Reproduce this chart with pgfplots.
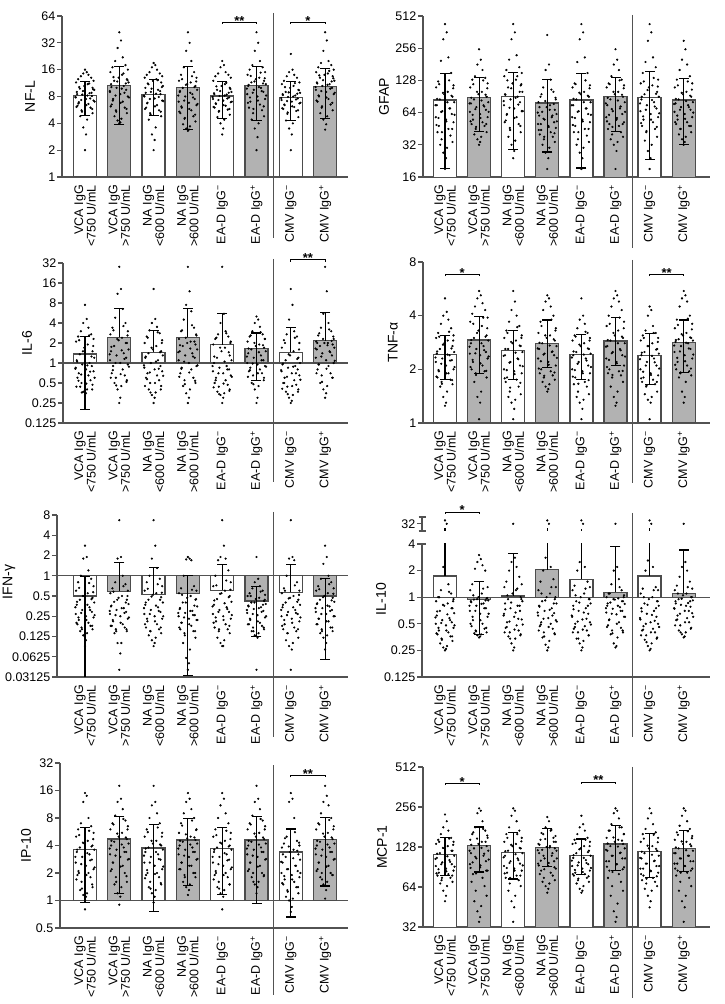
\documentclass[border=0pt]{standalone}
\usepackage{fontspec}
\setmainfont{Liberation Sans}
\usepackage{pgfplots}
\usepackage{pgfplotstable}
\pgfplotsset{compat=1.18}

\definecolor{axgray}{gray}{0.32}
\definecolor{barfill}{gray}{0.70}
\definecolor{baredge}{gray}{0.30}

\newcommand\xfont{\fontsize{12.5}{12.5}\selectfont}
\newcommand\yfont{\fontsize{12.5}{13}\selectfont}
\newcommand\lfont{\fontsize{14}{15}\selectfont}
\newcommand\sfont{\fontsize{13}{13}\selectfont\bfseries}

\pgfplotstableread{
j g0 g1 g2 g3 g4 g5 g6 g7
0 16 42 19 42 20 42 24 42
0.05 15 34 18 32 18 32 16 34
-0.05 14.5 28 17 26 17 26 15 26
0.1 14 22 16 20 15 20 14 20
-0.12 13.5 20 15 17 14.5 18 13.5 19
0.18 13 18 14.5 15 14 17 13 18
-0.2 12.5 17 14 14 13.5 16 12 17
0.25 12 16 13.5 13 13 15 11.5 16
-0.26 11.5 15 13 12 12 14 11 15
0.08 11 14 12.5 11.5 11 13 10.5 14.5
-0.02 10.5 13 12 11 10.5 12.5 10 14
0.22 10 12.5 11.5 10.5 10 12 9.5 13.5
-0.15 9.8 12 11 10 9.5 11.5 9 13
0.27 9.5 11.5 10.5 9.5 9 11 8.8 12
-0.24 9 11 10 9 8.7 10.5 8.5 11.5
0.13 8.7 10.5 9.5 8.5 8.4 10 8.2 11
-0.08 8.4 10 9 8 8.1 9.5 7.9 10.5
0.2 8.1 9.5 8.5 7.5 7.8 9 7.6 10
-0.27 7.8 9 8 7 7.5 8.5 7.3 9.5
0.03 7.5 8.5 7.6 6.8 7.2 8 7 9
0.25 7.2 8 7.2 6.4 6.9 7.5 6.7 8.5
-0.18 6.9 7.5 6.8 6 6.6 7 6.4 8
0.1 6.6 7 6.4 5.6 6.3 6.5 6.1 7.5
-0.22 6.3 6.5 6 5.2 6 6 5.8 7
0.16 6 6 5.6 4.8 5.7 5.6 5.5 6.5
-0.1 5.6 5.6 5.2 4.5 5.4 5.2 5.1 6
0.22 5.2 5.2 4.8 4.2 5 4.8 4.7 5.6
-0.14 4.8 4.8 4.4 3.9 4.7 4.4 4.3 5.2
0.06 4.4 4.5 3.6 3.7 4.4 4 4 4.8
-0.05 3.6 4.3 3.0 3.5 4 3.5 3.5 4.4
0.03 3.0 4.1 2.6 3.4 3.5 2.8 3 3.9
0 2.0 4.0 2.0 3.3 3.0 2.0 2 3.4
0.12 11.2 14.5 12.2 13.5 11.4 14.8 11.3 15.5
-0.17 10.2 13.2 11.2 12.5 10.4 13.6 10.2 13.8
0.24 9.6 12.2 10.2 11.8 9.7 12.8 9.4 12.8
-0.06 9.2 11.8 9.8 10.8 9.2 11.8 8.9 12.2
0.19 8.8 11.2 9.2 10.2 8.8 11.2 8.6 11.8
-0.23 8.5 10.2 8.8 9.2 8.5 10.8 8.3 11.2
0.07 8.2 9.8 8.6 8.8 8.2 10.2 8.0 10.8
-0.28 7.9 9.2 8.2 8.2 7.9 9.8 7.7 10.2
0.15 7.6 8.8 7.9 7.8 7.6 9.2 7.4 9.8
-0.11 7.3 8.2 7.5 7.2 7.3 8.8 7.1 9.2
0.28 7.0 7.8 7.1 6.6 7.0 8.2 6.8 8.8
-0.19 6.7 7.2 6.7 6.2 6.7 7.8 6.5 8.2
0.04 6.4 6.8 6.2 5.8 6.4 7.2 6.2 7.8
-0.25 6.1 6.2 5.8 5.4 6.1 6.8 5.9 7.2
0.21 5.8 5.8 5.4 5.0 5.8 6.2 5.6 6.8
-0.09 5.4 5.4 5.0 4.6 5.5 5.8 5.3 6.2
}\tNFL

\pgfplotstableread{
j g0 g1 g2 g3 g4 g5 g6 g7
0 430 250 430 340 430 250 430 300
0.05 360 200 360 180 360 200 360 250
-0.05 310 180 310 160 310 180 300 200
0.1 210 160 220 130 210 160 210 180
-0.12 195 140 200 110 190 140 190 160
0.18 150 135 170 100 150 130 170 140
-0.2 125 130 160 90 120 120 150 130
0.25 115 120 150 85 115 115 130 120
-0.26 110 110 140 80 110 110 120 110
0.08 100 100 130 75 100 100 115 100
-0.02 95 95 120 72 95 95 110 95
0.22 90 90 115 68 90 90 100 90
-0.15 85 85 110 65 85 85 95 85
0.27 80 80 100 62 80 80 90 80
-0.24 75 78 95 60 75 75 85 78
0.13 70 75 90 58 70 70 80 75
-0.08 66 72 85 55 66 66 75 72
0.2 62 68 80 52 62 62 70 68
-0.27 58 65 75 50 58 58 66 65
0.03 55 62 70 48 55 55 62 62
0.25 52 58 66 46 52 52 58 58
-0.18 48 55 62 44 48 50 55 55
0.1 45 52 58 42 45 48 52 52
-0.22 42 50 54 40 42 45 48 50
0.16 39 48 50 38 39 42 45 48
-0.1 36 45 46 36 36 40 42 45
0.22 34 42 42 34 34 38 38 42
-0.14 32 40 38 32 32 36 35 40
0.06 30 38 35 30 30 34 32 38
-0.05 27 36 32 27 27 32 28 36
0.03 24 34 28 24 24 28 24 34
0 19 32 24 19 19 19 19 32
0.12 128 128 140 105 128 128 135 125
-0.17 118 118 128 95 118 118 125 115
0.24 108 108 118 88 108 108 112 105
-0.06 98 100 108 82 98 100 104 98
0.19 92 94 100 77 92 94 96 92
-0.23 86 88 94 72 86 88 90 86
0.07 80 83 88 68 80 83 84 82
-0.28 75 78 82 64 75 78 78 77
0.15 70 73 76 60 70 73 73 72
-0.11 65 69 71 56 65 69 68 68
0.28 61 65 66 53 61 65 63 64
-0.19 57 61 61 50 57 61 59 60
0.04 53 57 57 47 53 57 55 56
-0.25 49 53 52 44 49 53 51 52
0.21 45 50 48 41 45 50 47 48
-0.09 42 47 44 38 42 47 43 45
}\tGFAP

\pgfplotstableread{
j g0 g1 g2 g3 g4 g5 g6 g7
0 7.5 28 13 28 28 5 13 28
0.05 4.6 13 4.6 12 5.5 4.5 7.5 12
-0.05 4 11 4 7.5 4 4 4.5 5.5
0.1 3.4 6.5 3.5 6 3 3.5 3 4
-0.12 3 4.8 3.1 4.5 2.7 3 2.7 3.4
0.18 2.7 4 2.8 3.4 2.5 2.7 2.5 3
-0.2 2.5 3.4 2.5 3 2.3 2.5 2.2 2.6
0.25 2.3 3 2.2 2.6 2.1 2.3 2 2.3
-0.26 2.1 2.7 2 2.3 1.9 2.1 1.7 2.1
0.08 1.9 2.4 1.8 2.1 1.7 1.9 1.5 2
-0.02 1.7 2.2 1.6 2 1.5 1.8 1.3 2
0.22 1.5 2 1.5 1.9 1.3 1.7 1.2 1.9
-0.15 1.35 1.8 1.4 1.8 1.2 1.6 1.1 1.8
0.27 1.2 1.6 1.3 1.6 1.1 1.5 1 1.7
-0.24 1.1 1.5 1.2 1.5 1 1.4 0.95 1.6
0.13 1 1.4 1.1 1.4 0.9 1.3 0.9 1.5
-0.08 0.95 1.3 1 1.3 0.85 1.2 0.85 1.4
0.2 0.9 1.2 0.9 1.2 0.8 1.1 0.8 1.3
-0.27 0.85 1.1 0.85 1.1 0.75 1 0.75 1.2
0.03 0.8 1 0.8 1 0.7 0.95 0.7 1.1
0.25 0.75 0.95 0.75 0.9 0.65 0.9 0.65 1
-0.18 0.7 0.9 0.7 0.85 0.6 0.85 0.6 0.95
0.1 0.65 0.8 0.65 0.8 0.55 0.8 0.55 0.9
-0.22 0.6 0.7 0.6 0.7 0.5 0.75 0.5 0.8
0.16 0.55 0.65 0.55 0.6 0.47 0.7 0.47 0.7
-0.1 0.5 0.6 0.5 0.55 0.44 0.65 0.44 0.65
0.22 0.47 0.55 0.45 0.5 0.4 0.6 0.4 0.6
-0.14 0.44 0.5 0.4 0.45 0.37 0.5 0.37 0.5
0.06 0.4 0.45 0.36 0.4 0.35 0.45 0.33 0.45
-0.05 0.37 0.4 0.33 0.35 0.33 0.4 0.3 0.4
0.03 0.35 0.3 0.3 0.3 0.3 0.3 0.27 0.35
0 0.33 0.25 0.25 0.25 0.25 0.25 0.25 0.3
0.12 2.6 3.6 2.9 3.7 2.8 2.9 2.4 3.2
-0.17 2.2 3.1 2.4 3.1 2.4 2.6 2.0 2.8
0.24 1.8 2.6 2.0 2.7 2.0 2.3 1.6 2.5
-0.06 1.5 2.3 1.7 2.4 1.7 2.0 1.35 2.3
0.19 1.25 2.0 1.45 2.1 1.45 1.85 1.15 2.15
-0.23 1.05 1.75 1.25 1.85 1.25 1.65 0.98 2.0
0.07 0.92 1.55 1.05 1.65 1.05 1.45 0.88 1.85
-0.28 0.82 1.35 0.92 1.45 0.9 1.25 0.78 1.65
0.15 0.74 1.15 0.82 1.25 0.8 1.1 0.7 1.45
-0.11 0.67 1.0 0.72 1.05 0.7 0.98 0.62 1.25
0.28 0.6 0.88 0.64 0.92 0.62 0.88 0.56 1.08
-0.19 0.54 0.78 0.57 0.82 0.55 0.78 0.5 0.95
0.04 0.49 0.68 0.5 0.72 0.49 0.7 0.45 0.82
-0.25 0.44 0.6 0.45 0.62 0.43 0.62 0.41 0.7
0.21 0.4 0.52 0.4 0.54 0.38 0.55 0.37 0.6
-0.09 0.36 0.46 0.36 0.48 0.34 0.48 0.34 0.52
}\tILsix

\pgfplotstableread{
j g0 g1 g2 g3 g4 g5 g6 g7
0 5 5.5 5.5 5.2 5 5.5 4.5 5.5
0.05 4.2 5.2 4.8 5 4 5.2 4.3 5.2
-0.05 4 5 4.3 4.8 3.8 5 4 5
0.1 3.8 4.7 4 4.5 3.6 4.8 3.5 4.8
-0.12 3.6 4.5 3.7 4.3 3.4 4.5 3.3 4.5
0.18 3.4 4.3 3.5 4 3.2 4.3 3.2 4
-0.2 3.2 4.1 3.3 3.7 3.1 4 3.1 3.8
0.25 3.1 3.9 3.1 3.4 3 3.7 3 3.6
-0.26 3 3.7 3 3.2 2.9 3.5 2.9 3.4
0.08 2.9 3.5 2.9 3.1 2.8 3.3 2.8 3.2
-0.02 2.8 3.3 2.8 3 2.7 3.1 2.7 3.1
0.22 2.7 3.1 2.7 2.9 2.6 3 2.6 3
-0.15 2.6 3 2.6 2.8 2.5 2.9 2.5 2.95
0.27 2.5 2.9 2.5 2.7 2.45 2.8 2.45 2.9
-0.24 2.45 2.8 2.4 2.6 2.4 2.7 2.4 2.85
0.13 2.4 2.7 2.3 2.5 2.3 2.6 2.3 2.8
-0.08 2.3 2.6 2.2 2.45 2.2 2.5 2.2 2.7
0.2 2.25 2.5 2.1 2.4 2.1 2.4 2.1 2.6
-0.27 2.2 2.45 2 2.3 2 2.3 2 2.5
0.03 2.1 2.4 1.95 2.2 1.95 2.2 1.9 2.4
0.25 2 2.3 1.9 2.1 1.9 2.1 1.85 2.3
-0.18 1.95 2.2 1.8 2 1.8 2 1.8 2.2
0.1 1.9 2.1 1.75 1.95 1.7 1.95 1.75 2.1
-0.22 1.8 2 1.7 1.9 1.65 1.9 1.7 2
0.16 1.75 1.95 1.6 1.85 1.6 1.85 1.65 1.95
-0.1 1.7 1.9 1.5 1.8 1.5 1.8 1.6 1.9
0.22 1.65 1.8 1.45 1.75 1.45 1.7 1.5 1.85
-0.14 1.6 1.7 1.4 1.7 1.4 1.6 1.45 1.8
0.06 1.5 1.5 1.35 1.65 1.35 1.5 1.4 1.7
-0.05 1.4 1.4 1.3 1.6 1.3 1.4 1.35 1.5
0.03 1.3 1.3 1.2 1.55 1.2 1.3 1.3 1.4
0 1.25 1.05 1.05 1.5 1.05 1.25 1.05 1.3
0.12 3.25 3.9 3.45 3.8 3.25 3.9 3.2 3.85
-0.17 3.05 3.6 3.2 3.5 3.05 3.6 3.0 3.55
0.24 2.9 3.4 3.0 3.3 2.9 3.4 2.85 3.35
-0.06 2.75 3.2 2.85 3.1 2.75 3.2 2.7 3.15
0.19 2.62 3.05 2.72 2.95 2.62 3.05 2.58 3.02
-0.23 2.52 2.92 2.6 2.82 2.52 2.92 2.48 2.92
0.07 2.42 2.8 2.48 2.72 2.42 2.8 2.38 2.82
-0.28 2.33 2.68 2.38 2.62 2.33 2.68 2.28 2.72
0.15 2.24 2.56 2.28 2.52 2.24 2.56 2.19 2.62
-0.11 2.15 2.46 2.18 2.42 2.15 2.46 2.1 2.52
0.28 2.06 2.36 2.08 2.32 2.06 2.36 2.02 2.42
-0.19 1.98 2.26 1.98 2.22 1.98 2.26 1.94 2.32
0.04 1.9 2.16 1.88 2.12 1.9 2.16 1.86 2.22
-0.25 1.82 2.06 1.78 2.02 1.82 2.06 1.78 2.12
0.21 1.74 1.96 1.68 1.92 1.74 1.96 1.7 2.02
-0.09 1.66 1.86 1.58 1.84 1.66 1.86 1.62 1.92
}\tTNF

\pgfplotstableread{
j g0 g1 g2 g3 g4 g5 g6 g7
0 2.8 6.7 6.7 1.9 6.7 1.9 6.7 2.8
0.05 1.9 1.9 2.8 1.8 2.8 0.9 1.9 1.9
-0.05 1.8 1.8 1.8 1.75 1.9 0.8 1.8 1.5
0.1 1.2 1 1.3 1.7 1.8 0.7 1.7 1
-0.12 1 0.8 1 1 1.7 0.65 1 0.9
0.18 0.9 0.75 0.9 0.7 1.2 0.6 0.8 0.8
-0.2 0.8 0.65 0.8 0.65 1 0.55 0.65 0.7
0.25 0.7 0.6 0.7 0.6 0.8 0.52 0.6 0.65
-0.26 0.6 0.55 0.6 0.55 0.7 0.5 0.55 0.6
0.08 0.55 0.5 0.55 0.5 0.6 0.47 0.5 0.55
-0.02 0.5 0.47 0.52 0.47 0.55 0.45 0.47 0.5
0.22 0.47 0.44 0.48 0.44 0.5 0.42 0.44 0.47
-0.15 0.44 0.41 0.44 0.4 0.45 0.4 0.4 0.44
0.27 0.4 0.38 0.4 0.35 0.41 0.38 0.37 0.41
-0.24 0.37 0.35 0.37 0.32 0.37 0.36 0.34 0.38
0.13 0.34 0.33 0.34 0.3 0.34 0.34 0.31 0.35
-0.08 0.31 0.31 0.31 0.28 0.31 0.32 0.29 0.33
0.2 0.29 0.29 0.29 0.26 0.29 0.3 0.27 0.31
-0.27 0.27 0.27 0.27 0.25 0.27 0.28 0.25 0.29
0.03 0.25 0.25 0.25 0.23 0.25 0.26 0.23 0.27
0.25 0.24 0.23 0.23 0.22 0.23 0.24 0.21 0.25
-0.18 0.22 0.21 0.21 0.2 0.21 0.22 0.19 0.23
0.1 0.2 0.19 0.19 0.18 0.19 0.2 0.17 0.21
-0.22 0.19 0.18 0.17 0.16 0.17 0.19 0.16 0.19
0.16 0.18 0.17 0.16 0.15 0.16 0.18 0.15 0.17
-0.1 0.17 0.16 0.15 0.14 0.15 0.17 0.14 0.16
0.22 0.16 0.15 0.14 0.12 0.14 0.16 0.12 0.15
-0.14 0.15 0.14 0.13 0.1 0.12 0.15 0.11 0.14
0.06 0.14 0.1 0.12 0.08 0.11 0.14 0.1 0.13
-0.05 0.13 0.1 0.11 0.06 0.1 0.13 0.09 0.12
0.03 0.11 0.07 0.1 0.05 0.09 0.12 0.08 0.1
0 0.09 0.04 0.09 0.04 0.09 0.04 0.04 0.08
0.12 0.78 0.7 0.75 0.62 0.85 0.58 0.72 0.75
-0.17 0.66 0.58 0.64 0.52 0.72 0.5 0.6 0.63
0.24 0.57 0.5 0.56 0.45 0.62 0.44 0.52 0.54
-0.06 0.5 0.44 0.49 0.4 0.54 0.4 0.46 0.48
0.19 0.45 0.4 0.44 0.36 0.48 0.37 0.41 0.43
-0.23 0.41 0.36 0.4 0.33 0.43 0.35 0.37 0.39
0.07 0.37 0.33 0.36 0.3 0.39 0.33 0.34 0.36
-0.28 0.34 0.3 0.33 0.28 0.35 0.31 0.31 0.33
0.15 0.31 0.28 0.3 0.26 0.32 0.29 0.28 0.3
-0.11 0.28 0.26 0.27 0.24 0.29 0.27 0.26 0.27
0.28 0.26 0.24 0.25 0.22 0.26 0.25 0.24 0.25
-0.19 0.24 0.22 0.23 0.2 0.24 0.23 0.22 0.23
0.04 0.22 0.2 0.21 0.19 0.22 0.21 0.2 0.21
-0.25 0.2 0.18 0.19 0.17 0.2 0.19 0.18 0.19
0.21 0.18 0.16 0.17 0.15 0.18 0.17 0.16 0.17
-0.09 0.16 0.15 0.15 0.13 0.16 0.15 0.14 0.15
}\tIFN

\pgfplotstableread{
j g0 g1 g2 g3 g4 g5 g6 g7
0 40 3 32 40 40 32 40 32
0.05 32 2.7 2.8 32 32 2.2 32 2.5
-0.05 2.2 2.5 2.5 2.8 2.5 2 2.6 2.2
0.1 1.4 2.3 2.2 2.2 2.2 1.6 2.2 2
-0.12 1.2 2.1 2 2 2 1.4 2 1.7
0.18 1.1 2 1.7 1.6 1.5 1.2 1.3 1.5
-0.2 1 1.4 1.5 1.5 1.35 1.1 1.25 1.35
0.25 0.95 1.3 1.4 1.3 1.3 1.05 1.2 1.25
-0.26 0.9 1.2 1.3 1.2 1.2 1 1.1 1.2
0.08 0.85 1.1 1.2 1.1 1.1 0.97 1 1.1
-0.02 0.8 1 1.1 1 1 0.94 0.95 1.05
0.22 0.75 0.97 1 0.95 0.95 0.9 0.9 1
-0.15 0.7 0.94 0.95 0.9 0.9 0.87 0.85 0.95
0.27 0.66 0.92 0.9 0.85 0.85 0.84 0.8 0.92
-0.24 0.62 0.9 0.85 0.8 0.8 0.8 0.75 0.9
0.13 0.58 0.85 0.8 0.75 0.75 0.77 0.7 0.86
-0.08 0.55 0.8 0.75 0.7 0.7 0.74 0.65 0.82
0.2 0.52 0.75 0.7 0.66 0.65 0.7 0.6 0.78
-0.27 0.5 0.7 0.65 0.62 0.6 0.67 0.56 0.74
0.03 0.48 0.65 0.6 0.58 0.56 0.64 0.52 0.7
0.25 0.45 0.6 0.56 0.55 0.52 0.6 0.5 0.66
-0.18 0.42 0.55 0.52 0.52 0.5 0.56 0.47 0.62
0.1 0.4 0.5 0.48 0.5 0.47 0.52 0.44 0.58
-0.22 0.38 0.47 0.45 0.47 0.44 0.48 0.42 0.55
0.16 0.36 0.44 0.42 0.44 0.42 0.45 0.4 0.52
-0.1 0.34 0.42 0.4 0.4 0.4 0.42 0.37 0.48
0.22 0.32 0.4 0.38 0.38 0.37 0.4 0.35 0.45
-0.14 0.3 0.39 0.36 0.35 0.34 0.38 0.33 0.42
0.06 0.28 0.38 0.34 0.32 0.32 0.35 0.3 0.4
-0.05 0.27 0.37 0.3 0.29 0.3 0.3 0.28 0.38
0.03 0.26 0.36 0.27 0.27 0.27 0.28 0.26 0.36
0 0.25 0.35 0.25 0.25 0.25 0.27 0.25 0.35
0.12 1.15 1.25 1.25 1.3 1.25 1.3 1.2 1.3
-0.17 1.0 1.05 1.05 1.1 1.05 1.1 1.0 1.1
0.24 0.9 0.98 0.95 1.0 0.95 1.0 0.9 1.0
-0.06 0.82 0.95 0.87 0.92 0.87 0.95 0.82 0.96
0.19 0.75 0.92 0.8 0.85 0.8 0.9 0.75 0.9
-0.23 0.69 0.88 0.73 0.78 0.73 0.85 0.69 0.85
0.07 0.64 0.84 0.67 0.72 0.67 0.8 0.63 0.8
-0.28 0.59 0.8 0.62 0.67 0.62 0.75 0.58 0.75
0.15 0.55 0.75 0.57 0.62 0.57 0.7 0.54 0.7
-0.11 0.51 0.7 0.53 0.57 0.53 0.65 0.5 0.65
0.28 0.48 0.65 0.49 0.53 0.49 0.6 0.46 0.6
-0.19 0.45 0.6 0.46 0.49 0.46 0.55 0.43 0.56
0.04 0.42 0.55 0.43 0.46 0.43 0.5 0.4 0.52
-0.25 0.39 0.5 0.4 0.42 0.4 0.46 0.37 0.48
0.21 0.36 0.45 0.37 0.39 0.37 0.42 0.34 0.44
-0.09 0.33 0.41 0.34 0.36 0.34 0.39 0.31 0.4
}\tILten

\pgfplotstableread{
j g0 g1 g2 g3 g4 g5 g6 g7
0 15 18 18 15 15 18 15 18
0.05 14 13 12 13 13 13 13 14
-0.05 12 12 11 12 11 12 12 12
0.1 8 10 9 10 9 10 8 11
-0.12 7 8.5 8 9 8 8.5 5 9
0.18 6.5 7.5 7 8 7 7.5 4.5 8
-0.2 6 7 6 7 6 7 4.2 7
0.25 5.5 6.5 5.5 6 5.5 6.5 4 6.5
-0.26 5 6 5 5.5 5 6 3.8 6
0.08 4.5 5.5 4.5 5 4.5 5.5 3.6 5.5
-0.02 4.2 5 4.2 4.8 4.2 5 3.4 5
0.22 4 4.7 4 4.6 4 4.7 3.2 4.7
-0.15 3.8 4.4 3.8 4.4 3.8 4.4 3 4.4
0.27 3.6 4.2 3.6 4.2 3.6 4.2 2.8 4.2
-0.24 3.4 4 3.4 4 3.4 4 2.6 4
0.13 3.2 3.8 3.2 3.8 3.2 3.8 2.4 3.8
-0.08 3 3.6 3 3.6 3 3.6 2.2 3.6
0.2 2.8 3.4 2.8 3.4 2.8 3.4 2.1 3.4
-0.27 2.6 3.2 2.6 3.2 2.6 3.2 2 3.2
0.03 2.4 3 2.4 3 2.4 3 1.9 3
0.25 2.2 2.8 2.2 2.8 2.2 2.8 1.8 2.8
-0.18 2 2.6 2 2.6 2 2.6 1.7 2.6
0.1 2 2.4 2 2.4 2 2.4 1.6 2.4
-0.22 1.9 2.2 1.9 2.2 1.9 2.2 1.5 2.2
0.16 1.8 2 1.8 2 1.8 2 1.4 2
-0.1 1.6 1.8 1.6 1.9 1.6 2 1.3 2
0.22 1.4 1.6 1.5 1.8 1.5 1.9 1.2 1.9
-0.14 1.3 1.5 1.4 1.6 1.4 1.8 1.1 1.8
0.06 1.2 1.4 1.3 1.5 1.3 1.6 1.05 1.6
-0.05 1.15 1.2 1.2 1.4 1.2 1.5 1 1.5
0.03 1.1 1.1 1.1 1.3 1.1 1.4 0.85 1.3
0 0.8 0.9 0.95 1.15 0.8 1.2 0.75 1.05
0.12 5.8 7.8 6.3 7.5 5.8 7.8 5.6 7.6
-0.17 5.2 6.8 5.6 6.6 5.2 6.8 4.8 6.8
0.24 4.7 6.0 5.0 5.9 4.7 6.0 4.3 6.0
-0.06 4.3 5.4 4.5 5.3 4.3 5.4 3.9 5.4
0.19 3.9 4.9 4.1 4.9 3.9 4.9 3.5 4.9
-0.23 3.6 4.5 3.7 4.5 3.6 4.5 3.2 4.5
0.07 3.3 4.1 3.4 4.1 3.3 4.1 2.9 4.1
-0.28 3.0 3.7 3.1 3.7 3.0 3.7 2.65 3.7
0.15 2.75 3.4 2.85 3.4 2.75 3.4 2.4 3.4
-0.11 2.5 3.1 2.6 3.1 2.5 3.1 2.2 3.1
0.28 2.3 2.85 2.35 2.85 2.3 2.85 2.0 2.85
-0.19 2.1 2.6 2.15 2.6 2.1 2.6 1.85 2.6
0.04 1.9 2.35 1.95 2.4 1.9 2.35 1.7 2.35
-0.25 1.7 2.1 1.75 2.2 1.7 2.1 1.55 2.1
0.21 1.5 1.85 1.55 2.0 1.5 1.85 1.4 1.9
-0.09 1.35 1.6 1.35 1.8 1.35 1.6 1.25 1.7
}\tIP

\pgfplotstableread{
j g0 g1 g2 g3 g4 g5 g6 g7
0 225 250 250 215 220 250 250 250
0.05 200 240 240 200 190 240 230 240
-0.05 180 230 220 180 180 230 210 220
0.1 170 200 200 170 170 210 190 200
-0.12 160 180 180 160 160 190 175 185
0.18 150 170 170 150 150 180 165 175
-0.2 145 160 160 145 145 170 160 165
0.25 140 150 150 140 140 160 150 155
-0.26 135 145 140 135 135 150 140 145
0.08 130 140 135 130 130 145 130 140
-0.02 125 135 130 128 125 140 125 135
0.22 120 130 125 125 120 135 120 130
-0.15 115 125 120 122 115 130 115 125
0.27 110 120 115 120 110 125 110 120
-0.24 106 115 110 115 106 120 105 115
0.13 102 110 105 110 102 115 100 110
-0.08 98 105 100 105 98 110 96 105
0.2 95 100 96 100 95 105 92 100
-0.27 92 95 92 96 92 100 88 96
0.03 88 90 88 92 88 95 85 92
0.25 85 85 85 88 85 90 82 88
-0.18 82 80 82 85 82 85 78 85
0.1 80 75 78 82 80 80 75 82
-0.22 78 70 75 80 78 75 72 78
0.16 75 65 72 78 75 70 70 75
-0.1 72 60 68 75 72 65 68 70
0.22 70 55 65 72 70 60 65 65
-0.14 68 50 60 70 68 55 62 60
0.06 65 46 55 68 65 48 60 55
-0.05 60 42 50 65 62 42 55 50
0.03 55 38 45 62 60 38 50 45
0 50 35 35 58 58 35 45 35
0.12 148 175 160 172 145 180 158 168
-0.17 140 165 150 163 137 170 148 158
0.24 133 156 141 155 130 160 139 149
-0.06 126 148 133 147 123 151 131 141
0.19 120 140 126 140 117 143 124 134
-0.23 114 133 119 133 111 136 118 127
0.07 109 126 113 127 106 129 112 121
-0.28 104 120 107 121 101 122 106 115
0.15 99 114 102 115 97 116 101 110
-0.11 95 108 97 110 93 110 96 105
0.28 91 103 93 105 89 105 92 100
-0.19 87 98 89 101 86 100 88 96
0.04 84 93 85 97 83 95 84 92
-0.25 81 89 81 93 80 91 80 88
0.21 78 85 78 90 77 87 77 85
-0.09 75 81 75 87 74 83 74 82
}\tMCP

\pgfplotsset{
  cpanel/.style={
    scale only axis,
    axis lines*=left,
    axis line style={axgray, line width=1.2pt},
    tick style={axgray, line width=1.2pt},
    tick align=outside, major tick length=5pt,
    xtick={0,...,7}, major x tick style={draw=none},
    xticklabels={{VCA IgG\\<750 U/mL},{VCA IgG\\>750 U/mL},{NA IgG\\<600 U/mL},{NA IgG\\>600 U/mL},{EA-D IgG\textsuperscript{−}},{EA-D IgG\textsuperscript{+}},{CMV IgG\textsuperscript{−}},{CMV IgG\textsuperscript{+}}},
    xticklabel style={rotate=90, anchor=east, align=right, font=\xfont, inner sep=0pt, xshift=-3pt},
    yticklabel style={font=\yfont, inner sep=1.5pt},
    ylabel style={font=\lfont, anchor=center},
    clip mode=individual,
  },
  wbar/.style={ybar, bar shift=0pt, bar width=23pt, fill=white, draw=baredge, line width=1.3pt},
  gbar/.style={ybar, bar shift=0pt, bar width=23pt, fill=barfill, draw=baredge, line width=1.3pt},
  dotm/.style={only marks, mark=*, mark size=0.9pt, black},
  ebar/.style={black, line width=1.05pt, mark=-, mark size=5pt, mark options={solid, line width=1.1pt}},
}
\tikzset{
  sepl/.style={axgray, line width=1.2pt},
  sigl/.style={black, line width=0.8pt},
}

% significance bracket: x1, x2, xmid, y, stars
\newcommand\sig[5]{%
  \draw[sigl] ([yshift=-2pt]axis cs:#1,#4) -- (axis cs:#1,#4) -- (axis cs:#2,#4) -- ([yshift=-2pt]axis cs:#2,#4);
  \node[anchor=base, inner sep=0pt, font=\sfont] at ([yshift=-3pt]axis cs:#3,#4) {#5};}

\begin{document}
\begin{tikzpicture}
\useasboundingbox (0,0) rectangle (725pt,1004pt);

%================ NF-L
\begin{axis}[cpanel, ymode=log, log origin y=0, at={(62pt,827pt)}, anchor=south west, width=286pt, height=161pt,
  xmin=-0.671, xmax=7.667, ymin=1, ymax=64,
  ytick={1,2,4,8,16,32,64}, yticklabels={1,2,4,8,16,32,64},
  ylabel={NF-L}, ylabel style={at={(axis description cs:-0.112,0.5)}}]
\addplot[wbar] coordinates {(0,8.2) (2,8.4) (4,8.1) (6,7.8)};
\addplot[gbar] coordinates {(1,10.6) (3,10.1) (5,10.6) (7,10.3)};
\pgfplotsinvokeforeach{0,...,7}{\addplot[dotm] table[x expr=\thisrow{j}+#1, y=g#1] {\tNFL};}
\addplot[ebar] coordinates {(0,4.85) (0,11.7)};
\addplot[ebar] coordinates {(1,3.9) (1,17.3)};
\addplot[ebar] coordinates {(2,4.85) (2,12.5)};
\addplot[ebar] coordinates {(3,3.4) (3,17.3)};
\addplot[ebar] coordinates {(4,4.5) (4,11.8)};
\addplot[ebar] coordinates {(5,4.26) (5,17.3)};
\addplot[ebar] coordinates {(6,4.26) (6,11.7)};
\addplot[ebar] coordinates {(7,4.5) (7,16.3)};
\draw[sepl] ([yshift=3pt]axis cs:5.5,64) -- ([yshift=-61pt]axis cs:5.5,1);
\sig{4}{5}{4.5}{54.5}{**}
\sig{6}{7}{6.5}{54.5}{*}
\end{axis}

%================ GFAP
\begin{axis}[cpanel, ymode=log, log origin y=0, at={(423pt,827pt)}, anchor=south west, width=287pt, height=161pt,
  xmin=-0.645, xmax=7.771, ymin=16, ymax=512,
  ytick={16,32,64,128,256,512}, yticklabels={16,32,64,128,256,512},
  ylabel={GFAP}, ylabel style={at={(axis description cs:-0.136,0.5)}}]
\addplot[wbar] coordinates {(0,83.7) (2,90.6) (4,83.7) (6,88.8)};
\addplot[gbar] coordinates {(1,88.8) (3,78.8) (5,90) (7,83.7)};
\pgfplotsinvokeforeach{0,...,7}{\addplot[dotm] table[x expr=\thisrow{j}+#1, y=g#1] {\tGFAP};}
\addplot[ebar] coordinates {(0,19.1) (0,149)};
\addplot[ebar] coordinates {(1,43) (1,136)};
\addplot[ebar] coordinates {(2,29) (2,151)};
\addplot[ebar] coordinates {(3,27.4) (3,131)};
\addplot[ebar] coordinates {(4,19.4) (4,149)};
\addplot[ebar] coordinates {(5,42.2) (5,136)};
\addplot[ebar] coordinates {(6,23.3) (6,155)};
\addplot[ebar] coordinates {(7,32.5) (7,133)};
\draw[sepl] ([yshift=1pt]axis cs:5.5,512) -- ([yshift=-71pt]axis cs:5.5,16);
\end{axis}

%================ IL-6
\begin{axis}[cpanel, ymode=log, log origin y=0, at={(63pt,581pt)}, anchor=south west, width=285pt, height=160pt,
  xmin=-0.641, xmax=7.668, ymin=0.125, ymax=32,
  ytick={0.125,0.25,0.5,1,2,4,8,16,32}, yticklabels={0.125,0.25,0.5,1,2,4,8,16,32},
  ylabel={IL-6}, ylabel style={at={(axis description cs:-0.126,0.5)}}]
\draw[sepl] ({rel axis cs:0,0} |- {axis cs:0,1}) -- ({rel axis cs:1,0} |- {axis cs:0,1});
\addplot[wbar] coordinates {(0,1.37) (2,1.45) (4,1.89) (6,1.45)};
\addplot[gbar] coordinates {(1,2.43) (3,2.43) (5,1.66) (7,2.17)};
\pgfplotsinvokeforeach{0,...,7}{\addplot[dotm] table[x expr=\thisrow{j}+#1, y=g#1] {\tILsix};}
\addplot[ebar] coordinates {(0,0.2) (0,2.5)};
\addplot[ebar, mark indices={2}] coordinates {(1,2.43) (1,6.6)};
\addplot[ebar, mark indices={2}] coordinates {(2,1.45) (2,3.07)};
\addplot[ebar, mark indices={2}] coordinates {(3,2.43) (3,6.6)};
\addplot[ebar, mark indices={2}] coordinates {(4,1.89) (4,5.6)};
\addplot[ebar] coordinates {(5,0.55) (5,2.83)};
\addplot[ebar, mark indices={2}] coordinates {(6,1.45) (6,3.4)};
\addplot[ebar, mark indices={2}] coordinates {(7,2.17) (7,5.8)};
\draw[sepl] ([yshift=4pt]axis cs:5.5,32) -- ([yshift=-59pt]axis cs:5.5,0.125);
\sig{6}{7}{6.5}{36}{**}
\end{axis}

%================ TNF-alpha
\begin{axis}[cpanel, ymode=log, log origin y=0, at={(423pt,581pt)}, anchor=south west, width=287pt, height=161pt,
  xmin=-0.645, xmax=7.771, ymin=1, ymax=8,
  ytick={1,2,4,8}, yticklabels={1,2,4,8},
  ylabel={TNF-α}, ylabel style={at={(axis description cs:-0.105,0.5)}}]
\addplot[wbar] coordinates {(0,2.43) (2,2.54) (4,2.43) (6,2.4)};
\addplot[gbar] coordinates {(1,2.92) (3,2.78) (5,2.88) (7,2.82)};
\pgfplotsinvokeforeach{0,...,7}{\addplot[dotm] table[x expr=\thisrow{j}+#1, y=g#1] {\tTNF};}
\addplot[ebar] coordinates {(0,1.76) (0,3.1)};
\addplot[ebar] coordinates {(1,1.9) (1,3.94)};
\addplot[ebar] coordinates {(2,1.76) (2,3.32)};
\addplot[ebar] coordinates {(3,2.05) (3,3.78)};
\addplot[ebar] coordinates {(4,1.75) (4,3.15)};
\addplot[ebar] coordinates {(5,2.1) (5,3.91)};
\addplot[ebar] coordinates {(6,1.64) (6,3.18)};
\addplot[ebar] coordinates {(7,1.93) (7,3.78)};
\draw[sepl] ([yshift=2pt]axis cs:5.5,8) -- ([yshift=-60pt]axis cs:5.5,1);
\sig{0}{1}{0.5}{6.85}{*}
\sig{6}{7}{6.5}{6.85}{**}
\end{axis}

%================ IFN-gamma
\begin{axis}[cpanel, ymode=log, log origin y=0, at={(57pt,327pt)}, anchor=south west, width=291pt, height=162pt,
  xmin=-0.816, xmax=7.668, ymin=0.03125, ymax=8,
  ytick={0.03125,0.0625,0.125,0.25,0.5,1,2,4,8}, yticklabels={0.03125,0.0625,0.125,0.25,0.5,1,2,4,8},
  ylabel={IFN-γ}, ylabel style={at={(axis description cs:-0.165,0.586)}}]
\draw[sepl] ({rel axis cs:0,0} |- {axis cs:0,1}) -- ({rel axis cs:1,0} |- {axis cs:0,1});
\addplot[wbar] coordinates {(0,0.5) (2,0.53) (4,0.61) (6,0.57)};
\addplot[gbar] coordinates {(1,0.59) (3,0.55) (5,0.42) (7,0.5)};
\pgfplotsinvokeforeach{0,...,7}{\addplot[dotm] table[x expr=\thisrow{j}+#1, y=g#1] {\tIFN};}
\addplot[ebar] coordinates {(0,0.02) (0,0.97)};
\addplot[ebar, mark indices={2}] coordinates {(1,0.59) (1,1.56)};
\addplot[ebar, mark indices={2}] coordinates {(2,0.53) (2,1.32)};
\addplot[ebar] coordinates {(3,0.033) (3,1.02)};
\addplot[ebar, mark indices={2}] coordinates {(4,0.61) (4,1.49)};
\addplot[ebar] coordinates {(5,0.125) (5,0.70)};
\addplot[ebar, mark indices={2}] coordinates {(6,0.57) (6,1.49)};
\addplot[ebar] coordinates {(7,0.057) (7,0.91)};
\draw[sepl] ([yshift=3pt]axis cs:5.5,8) -- ([yshift=-60pt]axis cs:5.5,0.03125);
\end{axis}

%================ IL-10 (broken axis: upper segment)
\begin{axis}[cpanel, ymode=log, at={(422pt,473pt)}, anchor=south west, width=288pt, height=14pt,
  axis x line=none, axis y line*=left,
  xmin=-0.674, xmax=7.772, ymin=20, ymax=50,
  xtick=\empty, ytick={32}, yticklabels={32}]
\pgfplotsinvokeforeach{0,...,7}{\addplot[dotm] table[x expr=\thisrow{j}+#1, y=g#1] {\tILten};}
\addplot[ebar, mark indices={2}] coordinates {(0,10) (0,24)};
\addplot[ebar, mark indices={2}] coordinates {(3,10) (3,25)};
\addplot[ebar, mark indices={2}] coordinates {(4,10) (4,22.5)};
\addplot[ebar, mark indices={2}] coordinates {(6,10) (6,24)};
\draw[sepl] ([xshift=-3.5pt]rel axis cs:0,0) -- ([xshift=3.5pt]rel axis cs:0,0);
\draw[sepl] ([xshift=-3.5pt]rel axis cs:0,1) -- ([xshift=3.5pt]rel axis cs:0,1);
\end{axis}

%================ IL-10 (lower segment)
\begin{axis}[cpanel, ymode=log, log origin y=0, at={(422pt,327pt)}, anchor=south west, width=288pt, height=133pt,
  xmin=-0.674, xmax=7.772, ymin=0.125, ymax=4,
  ytick={0.125,0.25,0.5,1,2,4}, yticklabels={0.125,0.25,0.5,1,2,4},
  ylabel={IL-10}, ylabel style={at={(axis description cs:-0.142,0.586)}}]
\draw[sepl] ({rel axis cs:0,0} |- {axis cs:0,1}) -- ({rel axis cs:1,0} |- {axis cs:0,1});
\addplot[wbar] coordinates {(0,1.74) (2,1.03) (4,1.6) (6,1.74)};
\addplot[gbar] coordinates {(1,0.95) (3,2.05) (5,1.14) (7,1.11)};
\pgfplotsinvokeforeach{0,...,7}{\addplot[dotm] table[x expr=\thisrow{j}+#1, y=g#1] {\tILten};}
\addplot[ebar, mark indices={2}] coordinates {(0,1.74) (0,24)};
\addplot[ebar] coordinates {(1,0.375) (1,1.5)};
\addplot[ebar, mark indices={2}] coordinates {(2,1.03) (2,3.14)};
\addplot[ebar, mark indices={2}] coordinates {(3,2.05) (3,25)};
\addplot[ebar, mark indices={2}] coordinates {(4,1.6) (4,22.5)};
\addplot[ebar, mark indices={2}] coordinates {(5,1.14) (5,3.73)};
\addplot[ebar, mark indices={2}] coordinates {(6,1.74) (6,24)};
\addplot[ebar, mark indices={2}] coordinates {(7,1.11) (7,3.42)};
\draw[sepl] ([xshift=-3.5pt]rel axis cs:0,1) -- ([xshift=3.5pt]rel axis cs:0,1);
\draw[sepl] ([yshift=31pt]axis cs:5.5,4) -- ([yshift=-60pt]axis cs:5.5,0.125);
\draw[sigl] ([yshift=30pt]axis cs:0,4) -- ([yshift=32pt]axis cs:0,4) -- ([yshift=32pt]axis cs:1,4) -- ([yshift=30pt]axis cs:1,4);
\node[anchor=base, inner sep=0pt, font=\sfont] at ([yshift=29pt]axis cs:0.5,4) {*};
\end{axis}

%================ IP-10
\begin{axis}[cpanel, ymode=log, log origin y=0, at={(60pt,76pt)}, anchor=south west, width=288pt, height=165pt,
  xmin=-0.729, xmax=7.667, ymin=0.5, ymax=32,
  ytick={0.5,1,2,4,8,16,32}, yticklabels={0.5,1,2,4,8,16,32},
  ylabel={IP-10}, ylabel style={at={(axis description cs:-0.118,0.5)}}]
\draw[sepl] ({rel axis cs:0,0} |- {axis cs:0,1}) -- ({rel axis cs:1,0} |- {axis cs:0,1});
\addplot[wbar] coordinates {(0,3.63) (2,3.76) (4,3.7) (6,3.4)};
\addplot[gbar] coordinates {(1,4.72) (3,4.6) (5,4.6) (7,4.68)};
\pgfplotsinvokeforeach{0,...,7}{\addplot[dotm] table[x expr=\thisrow{j}+#1, y=g#1] {\tIP};}
\addplot[ebar] coordinates {(0,0.95) (0,6.3)};
\addplot[ebar] coordinates {(1,1.19) (1,8.3)};
\addplot[ebar] coordinates {(2,0.76) (2,6.8)};
\addplot[ebar] coordinates {(3,1.46) (3,7.9)};
\addplot[ebar] coordinates {(4,1.16) (4,6.3)};
\addplot[ebar] coordinates {(5,0.92) (5,8.3)};
\addplot[ebar] coordinates {(6,0.66) (6,6.07)};
\addplot[ebar] coordinates {(7,1.44) (7,8.1)};
\draw[sepl] ([yshift=-2pt]axis cs:5.5,32) -- ([yshift=-67pt]axis cs:5.5,0.5);
\sig{6}{7}{6.5}{23.4}{**}
\end{axis}

%================ MCP-1
\begin{axis}[cpanel, ymode=log, log origin y=0, at={(423pt,77pt)}, anchor=south west, width=287pt, height=160pt,
  xmin=-0.645, xmax=7.771, ymin=32, ymax=512,
  ytick={32,64,128,256,512}, yticklabels={32,64,128,256,512},
  ylabel={MCP-1}, ylabel style={at={(axis description cs:-0.143,0.5)}}]
\addplot[wbar] coordinates {(0,113) (2,117) (4,111) (6,118)};
\addplot[gbar] coordinates {(1,131) (3,127) (5,135) (7,124)};
\pgfplotsinvokeforeach{0,...,7}{\addplot[dotm] table[x expr=\thisrow{j}+#1, y=g#1] {\tMCP};}
\addplot[ebar] coordinates {(0,78) (0,150)};
\addplot[ebar] coordinates {(1,83) (1,181)};
\addplot[ebar] coordinates {(2,73.5) (2,165)};
\addplot[ebar] coordinates {(3,91.6) (3,176)};
\addplot[ebar] coordinates {(4,79.5) (4,147)};
\addplot[ebar] coordinates {(5,85.5) (5,185)};
\addplot[ebar] coordinates {(6,75) (6,161)};
\addplot[ebar] coordinates {(7,84) (7,170)};
\draw[sepl] ([yshift=0pt]axis cs:5.5,512) -- ([yshift=-71pt]axis cs:5.5,32);
\sig{0}{1}{0.5}{388}{*}
\sig{4}{5}{4.5}{395}{**}
\end{axis}

\end{tikzpicture}
\end{document}
